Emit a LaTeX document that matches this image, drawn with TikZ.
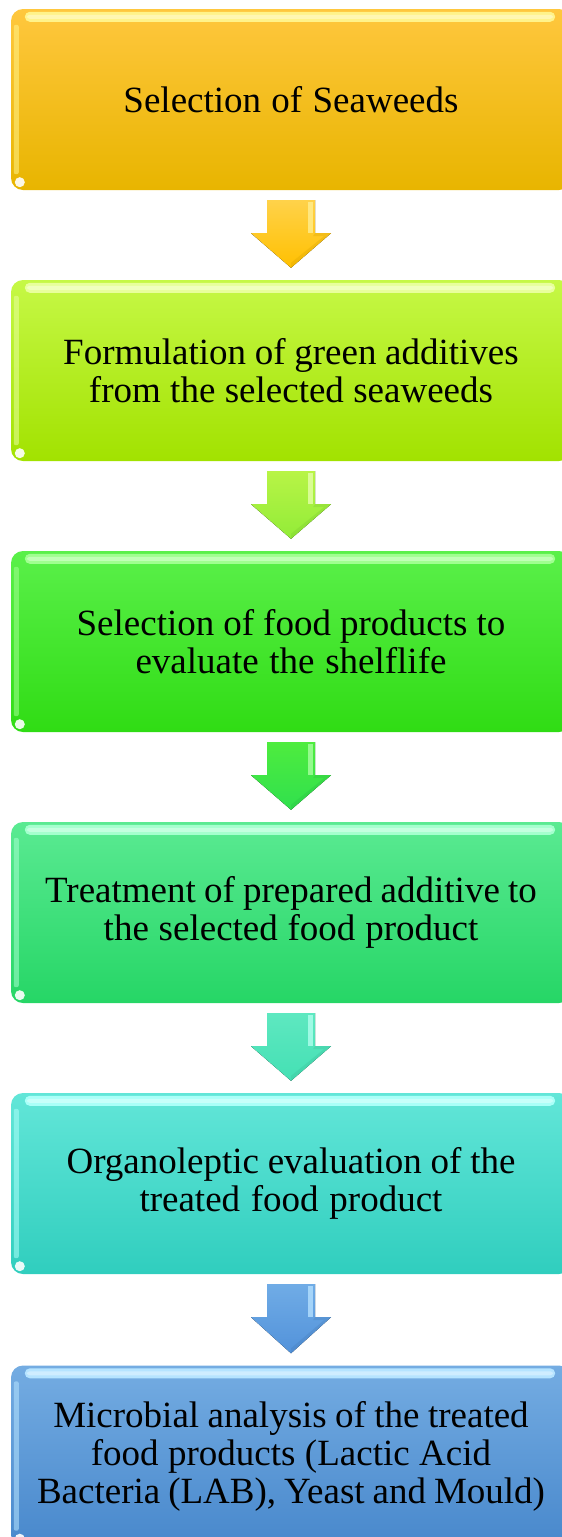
\documentclass[tikz,border=0pt]{standalone}
\usepackage{fontspec}
\setmainfont{Liberation Serif}
\usetikzlibrary{calc}

% stage colours: T = top, M = middle, B = bottom, H = highlight
\definecolor{goldT}{HTML}{FFC73E}\definecolor{goldM}{HTML}{FFC000}\definecolor{goldB}{HTML}{E8B500}\definecolor{goldH}{HTML}{FFF38A}
\definecolor{limeT}{HTML}{C6F846}\definecolor{limeM}{HTML}{B2F200}\definecolor{limeB}{HTML}{A2E200}\definecolor{limeH}{HTML}{E8FF9C}
\definecolor{grnT}{HTML}{5AF04A}\definecolor{grnM}{HTML}{3EEE22}\definecolor{grnB}{HTML}{30DC14}\definecolor{grnH}{HTML}{A0FF90}
\definecolor{sprT}{HTML}{5AEA92}\definecolor{sprM}{HTML}{3AE278}\definecolor{sprB}{HTML}{26D666}\definecolor{sprH}{HTML}{A4FFCE}
\definecolor{turT}{HTML}{62E6D8}\definecolor{turM}{HTML}{42DCCC}\definecolor{turB}{HTML}{30CEBE}\definecolor{turH}{HTML}{AAFFF8}
\definecolor{bluT}{HTML}{74ACE2}\definecolor{bluM}{HTML}{5E9AD8}\definecolor{bluB}{HTML}{4888CC}\definecolor{bluH}{HTML}{B6E4FF}
% arrow colours
\definecolor{aoneT}{HTML}{FFD24A}\definecolor{aoneB}{HTML}{FFC000}\definecolor{aoneH}{HTML}{FFEE90}
\definecolor{atwoT}{HTML}{B8F446}\definecolor{atwoB}{HTML}{92EC38}\definecolor{atwoH}{HTML}{E4FFA8}
\definecolor{athrT}{HTML}{4EEC3E}\definecolor{athrB}{HTML}{30E04E}\definecolor{athrH}{HTML}{A8FFA0}
\definecolor{afouT}{HTML}{5EE8C0}\definecolor{afouB}{HTML}{44E0B4}\definecolor{afouH}{HTML}{B0FFEE}
\definecolor{afivT}{HTML}{70ACE6}\definecolor{afivB}{HTML}{5292DA}\definecolor{afivH}{HTML}{B4E0FF}

\tikzset{
  stage/.style={rounded corners=12pt, minimum width=560pt, minimum height=181pt,
    text width=550pt, align=center, inner sep=0pt, text=black,
    font=\fontsize{37}{38}\selectfont,
    execute at begin node={\spaceskip=7.4pt plus 2pt minus 1pt\relax},
    top color=#1T, middle color=#1M, bottom color=#1B},
}

% glossy trim of a stage box: top band, left strip, corner glint
\newcommand\stagegloss[2]{%
  \fill[#2H, rounded corners=5pt]
    ([xshift=14pt,yshift=-3pt]#1.north west) rectangle ([xshift=-16pt,yshift=-13pt]#1.north east);
  \fill[white, opacity=.35, rounded corners=3pt]
    ([xshift=16pt,yshift=-6pt]#1.north west) rectangle ([xshift=-18pt,yshift=-10pt]#1.north east);
  \fill[#2H, opacity=.55, rounded corners=2pt]
    ([xshift=3pt,yshift=-16pt]#1.north west) rectangle ([xshift=8pt,yshift=16pt]#1.south west);
  \fill[white, opacity=.9] ([xshift=9pt,yshift=8pt]#1.south west) circle (5pt);
}

% block arrow from one stage to the next
\newcommand\stagearrow[3]{%
  \fill[top color=#3T, bottom color=#3B]
    ($(#1.south)+(-24,10)$) -- ($(#1.south)+(24,10)$) -- ($(#1.south)+(24,43)$)
    -- ($(#1.south)+(40,43)$) -- ($(#2.north)+(0,-12)$) -- ($(#1.south)+(-40,43)$)
    -- ($(#1.south)+(-24,43)$) -- cycle;
  \fill[#3H, opacity=.8] ($(#1.south)+(17,12)$) rectangle ($(#1.south)+(22,43)$);
  \fill[#3B!85!black, opacity=.3]
    ($(#1.south)+(24,43)$) -- ($(#1.south)+(40,43)$) -- ($(#2.north)+(0,-12)$)
    -- ($(#2.north)+(0,-17)$) -- ($(#1.south)+(33,46)$) -- ($(#1.south)+(22,46)$) -- cycle;
}

\begin{document}
\begin{tikzpicture}[x=1pt,y=-1pt]
\useasboundingbox (0,0) rectangle (562,1537);

\node[stage=gold] (s1) at (291,99.5)   {Selection of Seaweeds};
\node[stage=lime] (s2) at (291,370.5)  {Formulation of green additives\\from the selected seaweeds};
\node[stage=grn]  (s3) at (291,641.5)  {Selection of food products to\\evaluate the shelflife};
\node[stage=spr]  (s4) at (291,912.5)  {Treatment of prepared additive to\\the selected food product};
\node[stage=tur]  (s5) at (291,1183.5) {Organoleptic evaluation of the\\treated food product};
\node[stage=blu]  (s6) at (291,1456)   {Microbial analysis of the treated\\food products (Lactic Acid\\Bacteria (LAB), Yeast and Mould)};

\stagegloss{s1}{gold}
\stagegloss{s2}{lime}
\stagegloss{s3}{grn}
\stagegloss{s4}{spr}
\stagegloss{s5}{tur}
\stagegloss{s6}{blu}

\stagearrow{s1}{s2}{aone}
\stagearrow{s2}{s3}{atwo}
\stagearrow{s3}{s4}{athr}
\stagearrow{s4}{s5}{afou}
\stagearrow{s5}{s6}{afiv}
\end{tikzpicture}
\end{document}
